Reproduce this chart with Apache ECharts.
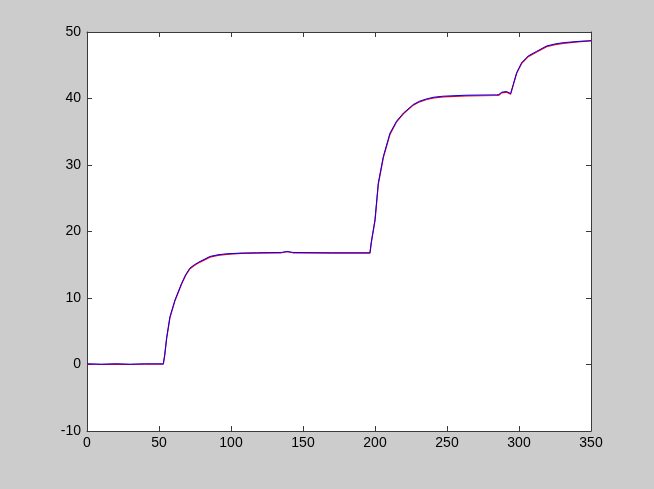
<!DOCTYPE html>
<html>
<head>
<meta charset="utf-8">
<script src="https://cdn.jsdelivr.net/npm/echarts@6/dist/echarts.min.js"></script>
<style>
html,body{margin:0;padding:0;background:#cccccc;}
#chart{width:654px;height:489px;}
</style>
</head>
<body>
<div id="chart"></div>
<script>
const xTicks = [0, 50, 100, 150, 200, 250, 300, 350];
const yTicks = [-10, 0, 10, 20, 30, 40, 50];
const times = [0, 10, 20, 30, 40, 50, 53, 54, 55.3, 57.6, 61.1, 65.7, 68.5, 71.5, 74.5, 78.5, 85.4, 91, 97, 107, 117.8, 135, 139, 143, 170, 196.5, 197.5, 200, 202.3, 205.8, 210.4, 215, 219.7, 226.6, 231, 235.9, 241, 247.5, 263.7, 284.5, 286, 288, 291.4, 294.2, 296, 298.4, 301.9, 306.4, 312.3, 319.2, 325, 330.8, 342.4, 350];
const blueVals = [0.1, 0.05, 0.1, 0.05, 0.1, 0.1, 0.1, 1.5, 4.0, 7.2, 9.7, 12.2, 13.5, 14.5, 15.0, 15.5, 16.25, 16.5, 16.65, 16.75, 16.8, 16.85, 17.0, 16.85, 16.8, 16.8, 18.5, 21.8, 27.3, 31.3, 34.8, 36.6, 37.8, 39.1, 39.6, 39.95, 40.2, 40.35, 40.5, 40.55, 40.6, 40.95, 41.05, 40.75, 42.1, 43.9, 45.4, 46.4, 47.1, 47.9, 48.2, 48.4, 48.6, 48.7];
const redVals = [0.05, 0.0, 0.05, 0.0, 0.05, 0.05, 0.05, 1.4, 3.9, 7.0, 9.6, 12.1, 13.4, 14.4, 14.9, 15.4, 16.15, 16.4, 16.55, 16.7, 16.75, 16.8, 16.95, 16.8, 16.75, 16.75, 18.4, 21.6, 27.1, 31.1, 34.6, 36.5, 37.7, 39.0, 39.5, 39.85, 40.1, 40.25, 40.4, 40.45, 40.5, 40.85, 40.95, 40.65, 42.0, 43.8, 45.3, 46.3, 47.0, 47.8, 48.1, 48.3, 48.55, 48.65];

const pairs = (ys) => times.map((t, i) => [t, ys[i]]);
const frame = '#3a3a3a';
const labelFont = {color: '#000', fontFamily: 'Liberation Sans, Arial, sans-serif', fontSize: 14};
const line = {show: true, onZero: false, lineStyle: {color: frame, width: 1}};
const tick = {show: true, inside: true, length: 5, lineStyle: {color: frame}};

const chart = echarts.init(document.getElementById('chart'));
chart.setOption({
  animation: false,
  backgroundColor: '#cccccc',
  grid: {left: 87, right: 63, top: 32, bottom: 58, show: true, backgroundColor: '#ffffff', borderWidth: 0},
  xAxis: [
    {type: 'value', min: xTicks[0], max: xTicks[xTicks.length - 1], interval: 50, position: 'bottom',
     axisLine: line, axisTick: tick,
     axisLabel: Object.assign({margin: 5}, labelFont),
     splitLine: {show: false}},
    {type: 'value', min: xTicks[0], max: xTicks[xTicks.length - 1], interval: 50, position: 'top',
     axisLine: line, axisTick: tick,
     axisLabel: {show: false}, splitLine: {show: false}}
  ],
  yAxis: [
    {type: 'value', min: yTicks[0], max: yTicks[yTicks.length - 1], interval: 10, position: 'left',
     axisLine: line, axisTick: tick,
     axisLabel: Object.assign({margin: 6}, labelFont),
     splitLine: {show: false}},
    {type: 'value', min: yTicks[0], max: yTicks[yTicks.length - 1], interval: 10, position: 'right',
     axisLine: line, axisTick: tick,
     axisLabel: {show: false}, splitLine: {show: false}}
  ],
  series: [
    {type: 'line', data: pairs(redVals), showSymbol: false, lineStyle: {color: '#ff0000', width: 1.2}, z: 2},
    {type: 'line', data: pairs(blueVals), showSymbol: false, lineStyle: {color: '#0000ff', width: 1}, z: 3}
  ]
});
</script>
</body>
</html>
